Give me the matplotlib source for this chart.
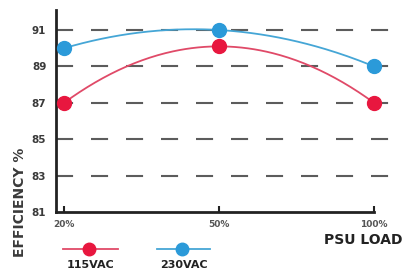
import numpy as np
import matplotlib
matplotlib.use("Agg")
import matplotlib.pyplot as plt
from matplotlib.lines import Line2D

# data
loads = ["20%", "50%", "100%"]
eff_115 = [87.0, 90.1, 87.0]
eff_230 = [90.0, 91.0, 89.0]
yticks = [81, 83, 85, 87, 89, 91]

red = "#e8173f"
red_line = "#e04a68"
blue = "#2b9ad9"
blue_line = "#45a6d6"
grey = "#3a3a3a"

fig = plt.figure(figsize=(4.03, 2.73), dpi=100)
ax = fig.add_axes([0.139, 0.2234, 0.841, 0.74])

x = np.arange(len(loads))
xs = np.linspace(0, 2, 200)
for vals, lc, mc in [(eff_115, red_line, red), (eff_230, blue_line, blue)]:
    # smooth curve through the three points
    p = np.poly1d(np.polyfit(x, vals, 2))
    ax.plot(xs, p(xs), color=lc, lw=1.3, zorder=3)
    ax.plot(x, vals, "o", color=mc, ms=10, mec=mc, zorder=4, clip_on=False)

for yv in yticks[1:]:
    ax.axhline(yv, color="#5c5c5c", lw=1.5, dashes=(8.2, 8.6), zorder=1)

ax.set_xlim(-0.052, 2.135)
ax.set_ylim(81, 92.1)
ax.set_xticks(x)
ax.set_xticklabels(loads)
ax.set_yticks(yticks)
for s in ["top", "right"]:
    ax.spines[s].set_visible(False)
ax.spines["bottom"].set_bounds(-0.052, 2)
for s in ["left", "bottom"]:
    ax.spines[s].set_linewidth(2)
    ax.spines[s].set_color("#222222")
ax.tick_params(axis="x", direction="in", length=4, width=1.5, color="#222222",
               labelsize=6.5, labelcolor="#555555", pad=6)
ax.tick_params(axis="y", length=0, labelsize=7.5, labelcolor=grey, pad=7)
for t in ax.get_yticklabels() + ax.get_xticklabels():
    t.set_fontweight("bold")

fig.text(20 / 403, 1 - 202 / 273, "EFFICIENCY %", rotation=90, ha="center",
         va="center", fontsize=10, fontweight="bold", color=grey)
fig.text(1.0, 1 - 240 / 273, "PSU LOAD", ha="right", va="center", fontsize=10,
         fontweight="bold", color="#222222")

# legend
for x0, x1, xm, lc, mc, lab in [(63, 118, 89, red_line, red, "115VAC"),
                                (157, 210, 182, blue_line, blue, "230VAC")]:
    yy = 1 - 249 / 273
    fig.add_artist(Line2D([x0 / 403, x1 / 403], [yy, yy], color=lc, lw=1.3))
    fig.add_artist(Line2D([xm / 403], [yy], marker="o", ms=9, color=mc))
    fig.text((x0 + x1) / 2 / 403, 1 - 265 / 273, lab, ha="center", va="center",
             fontsize=8, fontweight="bold", color="#222222")

fig.savefig("out.png", dpi=100)
